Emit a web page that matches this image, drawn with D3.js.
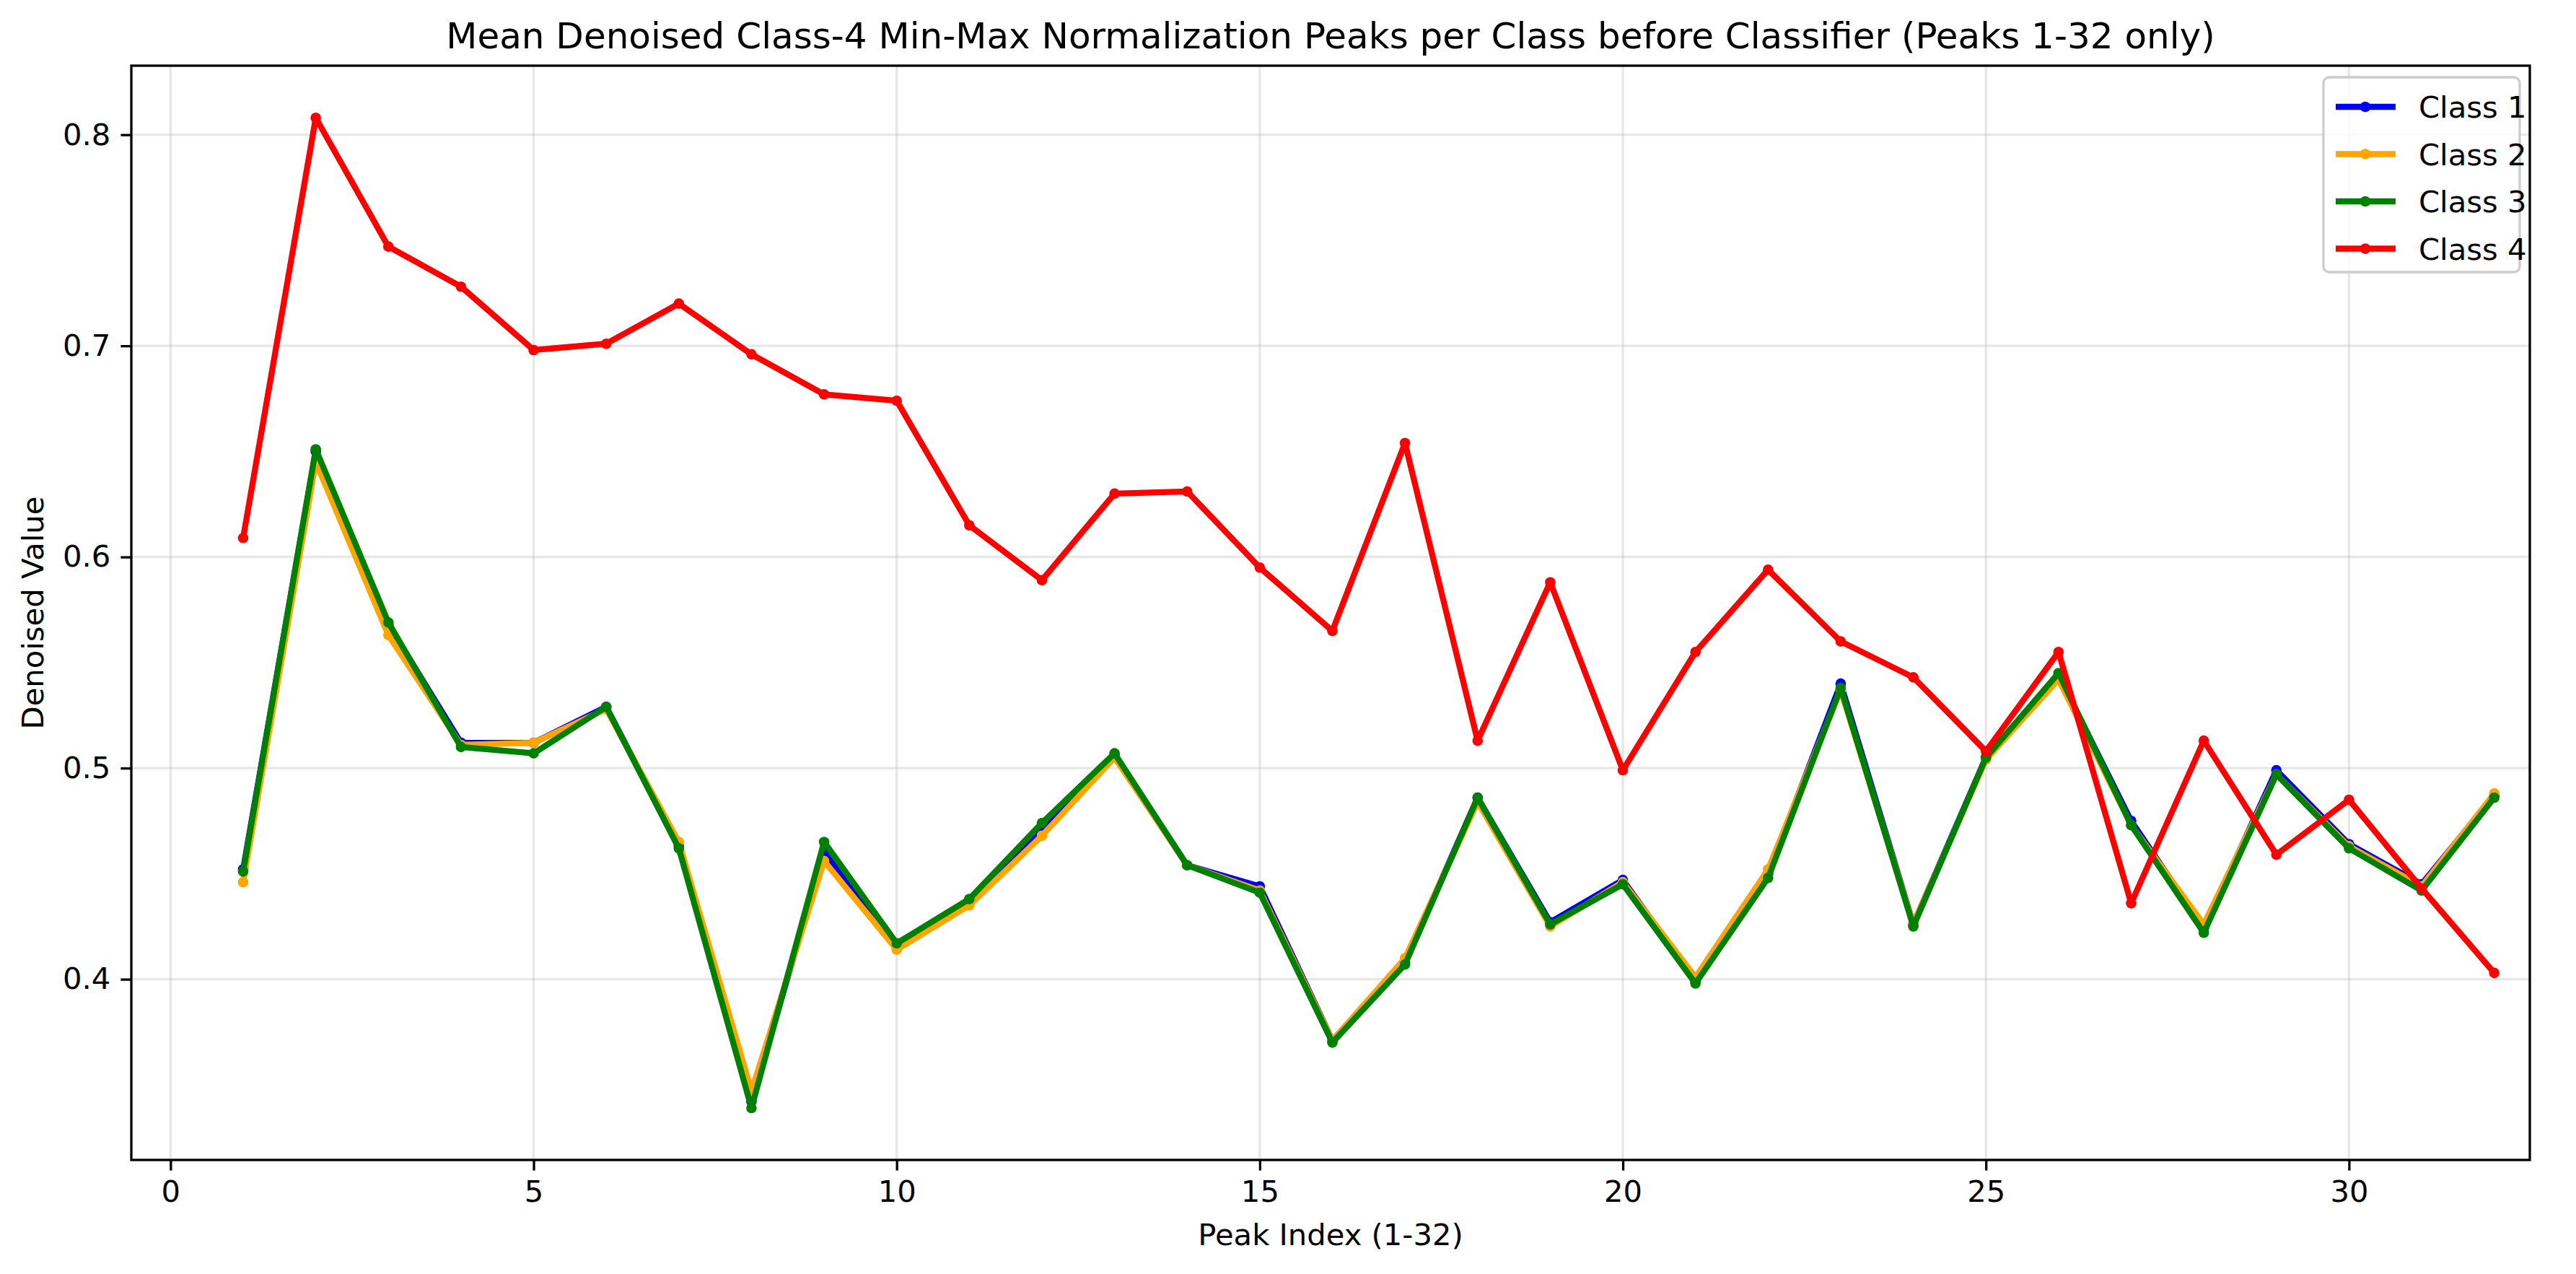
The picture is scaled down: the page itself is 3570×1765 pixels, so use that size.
<!DOCTYPE html>
<html><head><meta charset="utf-8">
<script src="https://cdn.jsdelivr.net/npm/d3@7"></script>
<style>body{margin:0;background:#fff}svg{display:block;font-family:"DejaVu Sans",sans-serif}</style>
</head><body>
<script>
const peaks = d3.range(1, 33);
const class1 = [0.452,0.650,0.568,0.512,0.512,0.529,0.463,0.342,0.460,0.416,0.437,0.472,0.506,0.454,0.444,0.371,0.408,0.486,0.427,0.447,0.399,0.450,0.540,0.426,0.505,0.544,0.475,0.424,0.499,0.464,0.445,0.487];
const class2 = [0.446,0.645,0.563,0.511,0.512,0.528,0.465,0.347,0.456,0.414,0.435,0.468,0.505,0.454,0.442,0.371,0.410,0.484,0.425,0.446,0.401,0.452,0.537,0.426,0.504,0.542,0.473,0.426,0.497,0.463,0.444,0.488];
const class3 = [0.451,0.651,0.569,0.510,0.507,0.529,0.462,0.339,0.465,0.417,0.438,0.474,0.507,0.454,0.441,0.370,0.407,0.486,0.426,0.445,0.398,0.448,0.538,0.425,0.505,0.545,0.473,0.422,0.497,0.462,0.442,0.486];
const class4 = [0.609,0.808,0.747,0.728,0.698,0.701,0.720,0.696,0.677,0.674,0.615,0.589,0.630,0.631,0.595,0.565,0.654,0.513,0.588,0.499,0.555,0.594,0.560,0.543,0.508,0.555,0.436,0.513,0.459,0.485,0.443,0.403];
const seriesNames = ["Class 1","Class 2","Class 3","Class 4"];
const seriesColors = ["blue","orange","green","red"];
const xTicks = [0,5,10,15,20,25,30];
const yTicks = [0.4,0.5,0.6,0.7,0.8];
const series = [class1,class2,class3,class4];

const W=3570,H=1765, L=182,R=3506,T=91,B=1607;
const svg=d3.select("body").append("svg").attr("width",W).attr("height",H);
const x=d3.scaleLinear().domain([-0.54,32.49]).range([L,R]);
const y=d3.scaleLinear().domain([0.3144,0.8327]).range([B,T]);
const g=svg.append("g");
// grid
g.selectAll(".gx").data(xTicks).enter().append("line").attr("x1",d=>x(d)).attr("x2",d=>x(d)).attr("y1",T).attr("y2",B).attr("stroke","#b0b0b0").attr("stroke-opacity",0.3).attr("stroke-width",3.3);
g.selectAll(".gy").data(yTicks).enter().append("line").attr("y1",d=>y(d)).attr("y2",d=>y(d)).attr("x1",L).attr("x2",R).attr("stroke","#b0b0b0").attr("stroke-opacity",0.3).attr("stroke-width",3.3);
// axes
const xa=svg.append("g").attr("transform",`translate(0,${B})`).call(d3.axisBottom(x).tickValues(xTicks).tickSize(14.6).tickPadding(14).tickFormat(d3.format("d")));
const ya=svg.append("g").attr("transform",`translate(${L},0)`).call(d3.axisLeft(y).tickValues(yTicks).tickSize(14.6).tickPadding(14).tickFormat(d3.format(".1f")));
[xa,ya].forEach(a=>{a.select(".domain").remove();a.selectAll("line").attr("stroke","#000").attr("stroke-width",3.3);a.selectAll("text").attr("font-size",41.7).attr("fill","#000").attr("font-family","DejaVu Sans");});
// lines
const line=d3.line().x((d,i)=>x(peaks[i])).y(d=>y(d));
series.forEach((s,k)=>{
  g.append("path").datum(s).attr("d",line).attr("fill","none").attr("stroke",seriesColors[k]).attr("stroke-width",8.3).attr("stroke-linejoin","round").attr("stroke-linecap","square");
  g.selectAll(".m"+k).data(s).enter().append("circle").attr("cx",(d,i)=>x(peaks[i])).attr("cy",d=>y(d)).attr("r",7.3).attr("fill",seriesColors[k]);
});
svg.append("rect").attr("x",L).attr("y",T).attr("width",R-L).attr("height",B-T).attr("fill","none").attr("stroke","#000").attr("stroke-width",3.3);
// labels
svg.append("text").attr("x",(L+R)/2).attr("y",67).attr("text-anchor","middle").attr("font-size",50).text("Mean Denoised Class-4 Min-Max Normalization Peaks per Class before Classifier (Peaks 1-32 only)");
svg.append("text").attr("x",(L+R)/2).attr("y",1725).attr("text-anchor","middle").attr("font-size",41.7).text("Peak Index (1-32)");
svg.append("text").attr("transform",`translate(60,${(T+B)/2}) rotate(-90)`).attr("text-anchor","middle").attr("font-size",41.7).text("Denoised Value");
// legend
const lg=svg.append("g");
lg.append("rect").attr("x",3220).attr("y",107).attr("width",272).attr("height",270).attr("rx",8).attr("fill","#fff").attr("fill-opacity",0.8).attr("stroke","#ccc").attr("stroke-width",3.3);
seriesNames.forEach((n,k)=>{
  const yy=148+k*65.5;
  lg.append("line").attr("x1",3237).attr("x2",3320).attr("y1",yy).attr("y2",yy).attr("stroke",seriesColors[k]).attr("stroke-width",8.3);
  lg.append("circle").attr("cx",3278).attr("cy",yy).attr("r",7.3).attr("fill",seriesColors[k]);
  lg.append("text").attr("x",3352).attr("y",yy+15).attr("font-size",41.7).text(n);
});
</script>
</body></html>
